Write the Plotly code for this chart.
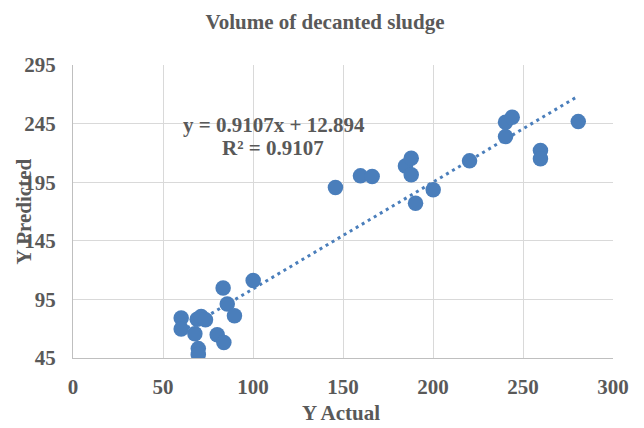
import plotly.graph_objects as go

y_actual = [60.1, 60.1, 67.7, 69.6, 69.6, 69.0, 71.2, 73.6, 80.1, 83.8, 83.4, 85.7, 89.7, 100.1,
            145.8, 159.7, 166.2, 184.7, 187.9, 187.9, 190.3, 200.1,
            220.3, 240.3, 240.3, 244.0, 259.7, 259.7, 280.7]
y_pred = [79.1, 69.7, 65.7, 53, 48, 78, 80.5, 77.6, 64.9, 58.3, 104.7, 91, 81, 111.2,
          190.4, 200.4, 199.8, 208.9, 215.5, 201.3, 177.1, 188.5,
          213.2, 233.9, 246.2, 250.4, 222, 215, 246.7]
slope = 0.9107
intercept = 12.894
r2 = 0.9107
x_ticks = [0, 50, 100, 150, 200, 250, 300]
y_ticks = [45, 95, 145, 195, 245, 295]

BLUE = "#4A7EBB"
GREY = "#595959"
FONT = "Liberation Serif"
FS = 21

trend_x = [min(y_actual), max(y_actual)]
trend_y = [slope * v + intercept for v in trend_x]

fig = go.Figure()
fig.add_trace(go.Scatter(x=trend_x, y=trend_y, mode="lines",
                         line=dict(color=BLUE, width=3, dash="3px,4px"),
                         hoverinfo="skip", showlegend=False))
fig.add_trace(go.Scatter(x=y_actual, y=y_pred, mode="markers",
                         marker=dict(color=BLUE, size=15.5),
                         showlegend=False))

W, H = 644, 428
# page body has an 8px offset; plot area on screen spans x 72.5-613, y 65-358.3
L, R, T, B = 64.5, W - 605, 57, H - 350.3
PW, PH = 540.5, 293.3

fig.update_layout(
    width=W, height=H,
    margin=dict(l=L, r=R, t=T, b=B, autoexpand=False),
    paper_bgcolor="white", plot_bgcolor="white",
    font=dict(family=FONT, color=GREY, size=FS),
    title=dict(text="<b>Volume of decanted sludge</b>", x=(325 - 8) / W, xanchor="center",
               y=1 - 14 / H, yanchor="middle", font=dict(size=FS, color=GREY, family=FONT)),
    xaxis=dict(range=[0, 300], tickvals=x_ticks, ticktext=[f"<b>{v}</b>" for v in x_ticks],
               showgrid=True, gridcolor="#D9D9D9", gridwidth=1,
               showline=True, linecolor="#BFBFBF", linewidth=1, zeroline=False,
               ticks="", ticklabelstandoff=10, tickfont=dict(size=FS)),
    yaxis=dict(range=[45, 295], tickvals=y_ticks, ticktext=[f"<b>{v}</b>" for v in y_ticks],
               showgrid=True, gridcolor="#D9D9D9", gridwidth=1,
               showline=True, linecolor="#BFBFBF", linewidth=1, zeroline=False,
               ticks="", ticklabelstandoff=12, tickfont=dict(size=FS)),
    annotations=[
        dict(text=f"<b>y = {slope}x + {intercept}</b>", x=111.7, y=243.9, xref="x", yref="y",
             showarrow=False, font=dict(size=FS, color=GREY, family=FONT),
             xanchor="center", yanchor="middle"),
        dict(text=f"<b>R² = {r2}</b>", x=111.1, y=224.3, xref="x", yref="y",
             showarrow=False, font=dict(size=FS, color=GREY, family=FONT),
             xanchor="center", yanchor="middle"),
        dict(text="<b>Y Actual</b>", x=(341 - 72.5) / PW, y=(358.3 - 413) / PH,
             xref="paper", yref="paper", showarrow=False,
             font=dict(size=FS, color=GREY, family=FONT), xanchor="center", yanchor="middle"),
        dict(text="<b>Y Predicted</b>", x=(23 - 72.5) / PW, y=(358.3 - 212) / PH,
             xref="paper", yref="paper", showarrow=False, textangle=-90,
             font=dict(size=FS, color=GREY, family=FONT), xanchor="center", yanchor="middle"),
    ],
)

fig.write_html("out.html")
